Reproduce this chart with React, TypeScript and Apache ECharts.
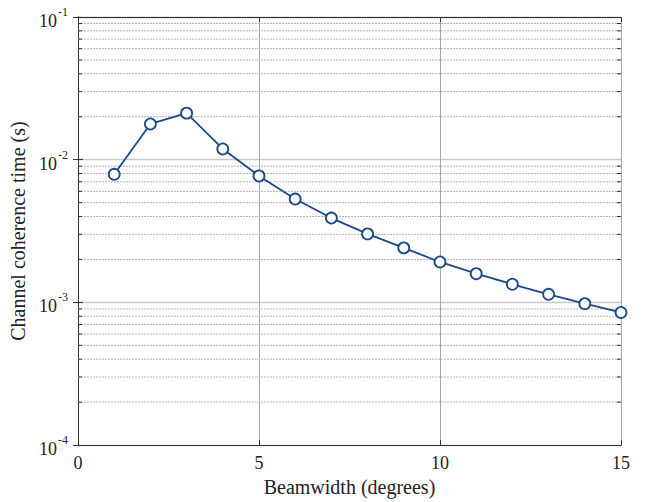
import React, { useEffect, useRef } from "react";
import * as echarts from "echarts";

const beamwidth = [1, 2, 3, 4, 5, 6, 7, 8, 9, 10, 11, 12, 13, 14, 15];
const coherenceTime = [
  0.0079, 0.0178, 0.0212, 0.0119, 0.0077, 0.0053, 0.0039, 0.00302, 0.00241,
  0.00192, 0.00159, 0.00134, 0.00114, 0.00098, 0.00085,
];
const xTicks = [0, 5, 10, 15];
const decades = [1e-4, 1e-3, 1e-2];
const minorMultipliers = [2, 3, 4, 5, 6, 7, 8, 9];

const FONT = "Liberation Serif";

export default function App() {
  const ref = useRef<HTMLDivElement>(null);
  useEffect(() => {
    if (!ref.current) return;
    const chart = echarts.init(ref.current, undefined, { renderer: "svg" });
    const minorValues: number[] = [];
    decades.forEach((d) =>
      minorMultipliers.forEach((m) => minorValues.push(+(d * m).toPrecision(3)))
    );
    const xMin = xTicks[0];
    const xMax = xTicks[xTicks.length - 1];
    const tickLen = (xMax - xMin) * (4 / 543);
    const lineColor = "#1a4a8a";
    const axisCommon = {
      axisLine: { show: true, lineStyle: { color: "#333", width: 1 } },
      axisTick: { show: true, inside: true, length: 5, lineStyle: { color: "#333" } },
    };
    const minorGridSeries = minorValues.map((v) => ({
      type: "line",
      data: [
        [xMin, v],
        [xMax, v],
      ],
      symbol: "none",
      silent: true,
      lineStyle: { color: "#b4b4b4", width: 1, type: [2, 1] },
      z: 1,
    }));
    const minorTickSeries = minorValues.flatMap((v) => [
      {
        type: "line",
        data: [
          [xMin, v],
          [xMin + tickLen, v],
        ],
        symbol: "none",
        silent: true,
        lineStyle: { color: "#333", width: 1 },
        z: 2,
      },
      {
        type: "line",
        data: [
          [xMax - tickLen, v],
          [xMax, v],
        ],
        symbol: "none",
        silent: true,
        lineStyle: { color: "#333", width: 1 },
        z: 2,
      },
    ]);
    chart.setOption({
      animation: false,
      backgroundColor: "#fff",
      textStyle: { fontFamily: FONT },
      grid: { left: 78, right: 33, top: 17, bottom: 55 },
      xAxis: [
        {
          type: "value",
          min: xMin,
          max: xMax,
          interval: 5,
          ...axisCommon,
          axisLabel: { color: "#222", fontSize: 18, fontFamily: FONT, margin: 9 },
          splitLine: { show: true, lineStyle: { color: "#a8a8a8", width: 1 } },
          name: "Beamwidth (degrees)",
          nameLocation: "middle",
          nameGap: 28,
          nameTextStyle: { color: "#222", fontSize: 20, fontFamily: FONT },
        },
        {
          type: "value",
          position: "top",
          min: xMin,
          max: xMax,
          interval: 5,
          ...axisCommon,
          axisLabel: { show: false },
          splitLine: { show: false },
        },
      ],
      yAxis: [
        {
          type: "log",
          logBase: 10,
          min: 1e-4,
          max: 1e-1,
          ...axisCommon,
          axisLabel: {
            color: "#222",
            fontSize: 18,
            fontFamily: FONT,
            margin: 10,
            formatter: (v: number) => `{b|10}{sup|${Math.round(Math.log10(v))}}`,
            rich: {
              b: { fontSize: 18, fontFamily: FONT, color: "#222", padding: [8, 0, 0, 0] },
              sup: { fontSize: 12, fontFamily: FONT, color: "#222", padding: [0, 0, 10, 1] },
            },
          },
          splitLine: { show: true, lineStyle: { color: "#c8c8c8", width: 1.3 } },
          name: "Channel coherence time (s)",
          nameLocation: "middle",
          nameGap: 46,
          nameRotate: 90,
          nameTextStyle: { color: "#222", fontSize: 20, fontFamily: FONT },
        },
        {
          type: "log",
          logBase: 10,
          min: 1e-4,
          max: 1e-1,
          position: "right",
          ...axisCommon,
          axisLabel: { show: false },
          splitLine: { show: false },
        },
      ],
      series: [
        ...minorGridSeries,
        ...minorTickSeries,
        {
          type: "line",
          data: beamwidth.map((b, i) => [b, coherenceTime[i]]),
          symbol: "circle",
          symbolSize: 11,
          itemStyle: { color: "#fff", borderColor: lineColor, borderWidth: 1.8 },
          lineStyle: { color: lineColor, width: 1.8 },
          z: 5,
        },
      ],
    });
    return () => chart.dispose();
  }, []);
  return (
    <div
      ref={ref}
      style={{ position: "fixed", left: 0, top: 0, width: 654, height: 502 }}
    />
  );
}
